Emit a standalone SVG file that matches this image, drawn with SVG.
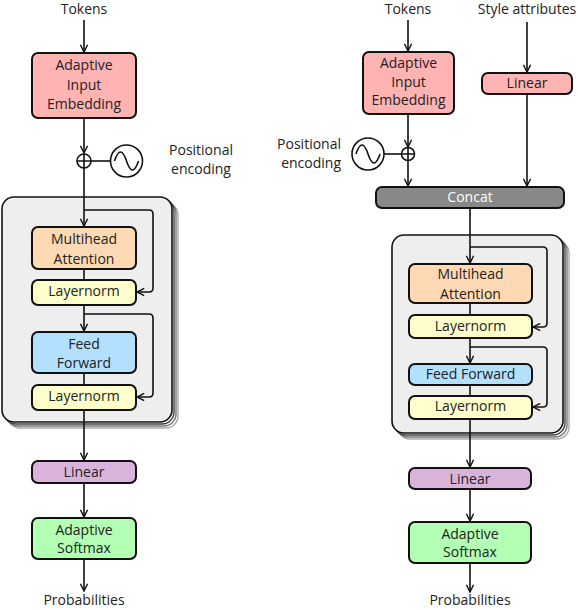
<svg xmlns="http://www.w3.org/2000/svg" width="578" height="610" viewBox="0 0 578 610">
<style>
text{font-family:"Open Sans","Noto Sans","DejaVu Sans",sans-serif;font-size:14px;fill:#222;text-anchor:middle}
.box{stroke:#111;stroke-width:2}
.c{fill:none;stroke:#111;stroke-width:1.6}
.ca{fill:none;stroke:#111;stroke-width:1.6;marker-end:url(#arr)}
.pink{fill:#ffb3b3}.peach{fill:#ffd9b3}.yel{fill:#ffffcc}.blue{fill:#b3e0ff}.purp{fill:#d9b3d9}.green{fill:#b3ffb3}.grey{fill:#888}
.blk{fill:#eeeeee;stroke:#111;stroke-width:1.6}
.s1{fill:#fff;stroke:#444;stroke-width:1.4}.s2{fill:#fff;stroke:#777;stroke-width:1.4}.s3{fill:#fff;stroke:#aaa;stroke-width:1.4}
</style>
<defs>
<marker id="arr" viewBox="0 0 10 10" refX="9" refY="5" markerWidth="9" markerHeight="9" markerUnits="userSpaceOnUse" orient="auto">
<path d="M1,1 L9,5 L1,9" fill="none" stroke="#111" stroke-width="1.6"/>
</marker>
</defs>

<!-- LEFT -->
<g id="left-block">
<rect class="s3" x="8" y="203" width="170" height="225" rx="12"/>
<rect class="s2" x="6" y="201" width="170" height="225" rx="12"/>
<rect class="s1" x="4" y="199" width="170" height="225" rx="12"/>
<rect class="blk" x="2" y="197" width="170" height="225" rx="12"/>
</g>
<g id="connectors-left">
<line class="ca" x1="84" y1="20" x2="84" y2="52"/>
<line class="ca" x1="84" y1="118" x2="84" y2="153"/>
<line class="c" x1="91" y1="161" x2="110" y2="161"/>
<line class="ca" x1="84" y1="168" x2="84" y2="226"/>
<path class="ca" d="M84,210 H149 Q153,210 153,214 V288 Q153,292 149,292 H137"/>
<line class="c" x1="84" y1="269" x2="84" y2="280"/>
<line class="ca" x1="84" y1="305" x2="84" y2="331"/>
<path class="ca" d="M84,314 H149 Q153,314 153,318 V393 Q153,397 149,397 H137"/>
<line class="c" x1="84" y1="373" x2="84" y2="385"/>
<line class="ca" x1="84" y1="410" x2="84" y2="460"/>
<line class="ca" x1="84" y1="483" x2="84" y2="517"/>
<line class="ca" x1="84" y1="559" x2="84" y2="591"/>
</g>
<g id="l-tokens"><text x="84" y="14">Tokens</text></g>
<g id="l-embed">
<rect class="box pink" x="32" y="53" width="104" height="65" rx="6"/>
<text x="84" y="70">Adaptive</text><text x="84" y="90">Input</text><text x="84" y="109">Embedding</text>
</g>
<g id="l-plus">
<circle cx="84" cy="161" r="7" fill="#fff" stroke="#111" stroke-width="1.6"/>
<path d="M77,161 H91 M84,154 V168" stroke="#111" stroke-width="1.6"/>
</g>
<g id="l-pos">
<circle cx="126.5" cy="161" r="16" fill="#fff" stroke="#111" stroke-width="1.6"/>
<path d="M114.5,161 C118.5,149 122.5,149 126.5,161 C130.5,173 134.5,173 138.5,161" fill="none" stroke="#111" stroke-width="1.6"/>
<text x="201" y="155">Positional</text><text x="201" y="174">encoding</text>
</g>
<g id="l-mha"><rect class="box peach" x="32" y="227" width="104" height="42" rx="6"/><text x="84" y="244">Multihead</text><text x="84" y="264">Attention</text></g>
<g id="l-ln1"><rect class="box yel" x="32" y="280" width="104" height="25" rx="6"/><text x="84" y="296">Layernorm</text></g>
<g id="l-ff"><rect class="box blue" x="32" y="332" width="104" height="41" rx="6"/><text x="84" y="349">Feed</text><text x="84" y="368">Forward</text></g>
<g id="l-ln2"><rect class="box yel" x="32" y="385" width="104" height="25" rx="6"/><text x="84" y="401">Layernorm</text></g>
<g id="l-linear"><rect class="box purp" x="32" y="461" width="104" height="22" rx="6"/><text x="84" y="477">Linear</text></g>
<g id="l-softmax"><rect class="box green" x="32" y="518" width="104" height="41" rx="6"/><text x="84" y="535">Adaptive</text><text x="84" y="553">Softmax</text></g>
<g id="l-prob"><text x="84" y="605">Probabilities</text></g>

<!-- RIGHT -->
<g id="right-block">
<rect class="s3" x="398" y="241" width="171" height="198" rx="12"/>
<rect class="s2" x="396" y="239" width="171" height="198" rx="12"/>
<rect class="s1" x="394" y="237" width="171" height="198" rx="12"/>
<rect class="blk" x="392" y="235" width="171" height="198" rx="12"/>
</g>
<g id="connectors-right">
<line class="ca" x1="408" y1="20" x2="408" y2="51"/>
<line class="ca" x1="527" y1="22" x2="527" y2="72"/>
<line class="ca" x1="408" y1="114" x2="408" y2="147"/>
<line class="c" x1="402" y1="154" x2="384" y2="154"/>
<line class="ca" x1="408" y1="161" x2="408" y2="186"/>
<line class="ca" x1="527" y1="94" x2="527" y2="186"/>
<line class="ca" x1="470" y1="208" x2="470" y2="263"/>
<path class="ca" d="M470,247 H543 Q547,247 547,251 V323 Q547,327 543,327 H533"/>
<line class="c" x1="470" y1="303" x2="470" y2="315"/>
<line class="ca" x1="470" y1="338" x2="470" y2="363"/>
<path class="ca" d="M470,347 H543 Q547,347 547,351 V403 Q547,407 543,407 H533"/>
<line class="c" x1="470" y1="385" x2="470" y2="396"/>
<line class="ca" x1="470" y1="419" x2="470" y2="467"/>
<line class="ca" x1="470" y1="489" x2="470" y2="521"/>
<line class="ca" x1="470" y1="563" x2="470" y2="592"/>
</g>
<g id="r-tokens"><text x="408" y="14">Tokens</text></g>
<g id="r-style"><text x="527" y="14">Style attributes</text></g>
<g id="r-embed">
<rect class="box pink" x="363" y="52" width="91" height="62" rx="6"/>
<text x="408.5" y="68">Adaptive</text><text x="408.5" y="87">Input</text><text x="408.5" y="105">Embedding</text>
</g>
<g id="r-linear-style"><rect class="box pink" x="482" y="73" width="90" height="21" rx="6"/><text x="527" y="88">Linear</text></g>
<g id="r-plus">
<circle cx="408" cy="154" r="6.5" fill="#fff" stroke="#111" stroke-width="1.6"/>
<path d="M401.5,154 H414.5 M408,147.5 V160.5" stroke="#111" stroke-width="1.6"/>
</g>
<g id="r-pos">
<circle cx="368" cy="154" r="16" fill="#fff" stroke="#111" stroke-width="1.6"/>
<path d="M356,154 C360,142 364,142 368,154 C372,166 376,166 380,154" fill="none" stroke="#111" stroke-width="1.6"/>
<text x="341" y="149" style="text-anchor:end">Positional</text><text x="341" y="168" style="text-anchor:end">encoding</text>
</g>
<g id="r-concat"><rect class="box grey" x="376" y="187" width="188" height="21" rx="6"/><text x="470" y="202" style="fill:#fff">Concat</text></g>
<g id="r-mha"><rect class="box peach" x="409" y="264" width="123" height="39" rx="6"/><text x="470.5" y="279">Multihead</text><text x="470.5" y="299">Attention</text></g>
<g id="r-ln1"><rect class="box yel" x="409" y="315" width="123" height="23" rx="6"/><text x="470.5" y="331">Layernorm</text></g>
<g id="r-ff"><rect class="box blue" x="409" y="364" width="123" height="21" rx="6"/><text x="470.5" y="379">Feed Forward</text></g>
<g id="r-ln2"><rect class="box yel" x="409" y="396" width="123" height="23" rx="6"/><text x="470.5" y="411">Layernorm</text></g>
<g id="r-linear"><rect class="box purp" x="409" y="468" width="122" height="21" rx="6"/><text x="470" y="484">Linear</text></g>
<g id="r-softmax"><rect class="box green" x="409" y="522" width="122" height="41" rx="6"/><text x="470" y="539">Adaptive</text><text x="470" y="557">Softmax</text></g>
<g id="r-prob"><text x="470" y="605">Probabilities</text></g>
</svg>
